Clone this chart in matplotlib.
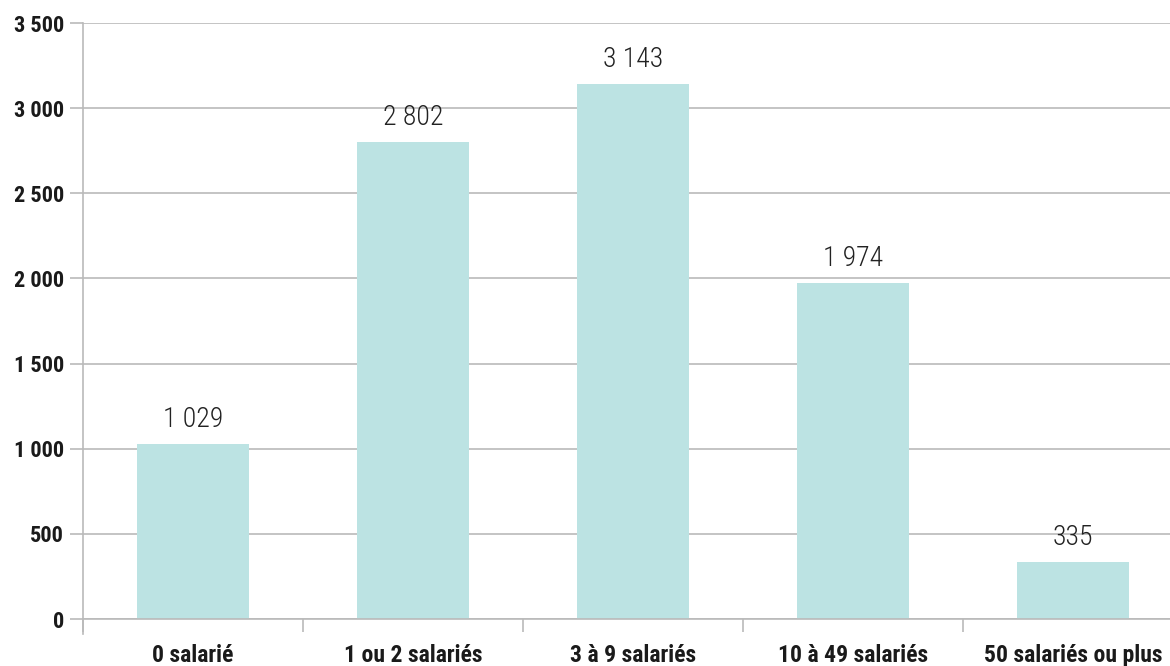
import matplotlib
matplotlib.use("Agg")
import matplotlib.pyplot as plt
from matplotlib.ticker import FuncFormatter, MultipleLocator, FixedLocator

plt.rcParams['font.family'] = ['Roboto Condensed', 'DejaVu Sans']
plt.rcParams['font.stretch'] = 'condensed'

categories = ["0 salarié", "1 ou 2 salariés", "3 à 9 salariés",
              "10 à 49 salariés", "50 salariés ou plus"]
values = [1029, 2802, 3143, 1974, 335]

bar_color = "#bce3e3"
grid_color = "#bababa"


def fmt_fr(v, pos=None):
    return f"{int(v):,}".replace(",", " ")


fig = plt.figure(figsize=(11.7, 6.66), dpi=100)
ax = fig.add_axes([83 / 1170, 47 / 666, 1100 / 1170, 596 / 666])

x = list(range(len(categories)))
ax.bar(x, values, width=0.51, color=bar_color, zorder=2)

for xi, v in zip(x, values):
    ax.annotate(fmt_fr(v), (xi, v), xytext=(0, 8), textcoords="offset points",
                ha="center", va="bottom", fontsize=20, fontweight="light",
                color="#222222")

ax.set_xlim(-0.5, len(categories) - 0.5)
ax.set_ylim(0, 3500)
ax.yaxis.set_major_locator(MultipleLocator(500))
ax.yaxis.set_major_formatter(FuncFormatter(fmt_fr))
ax.grid(axis="y", color=grid_color, linewidth=1.2, zorder=0)

ax.set_xticks(x)
ax.set_xticklabels(categories)
ax.xaxis.set_minor_locator(FixedLocator([i - 0.5 for i in range(len(categories) + 1)]))
ax.tick_params(axis="x", which="major", length=0, pad=18)
ax.tick_params(axis="x", which="minor", length=9.5, width=1.2, color=grid_color)
ax.tick_params(axis="y", length=9.5, width=1.2, color=grid_color, pad=4)

for lbl in ax.get_xticklabels():
    lbl.set_fontweight("bold")
    lbl.set_fontsize(17)
    lbl.set_color("#1a1a1a")
for lbl in ax.get_yticklabels():
    lbl.set_fontweight("bold")
    lbl.set_fontsize(16)
    lbl.set_color("#1a1a1a")

for side in ["top", "right"]:
    ax.spines[side].set_visible(False)
for side in ["left", "bottom"]:
    ax.spines[side].set_color(grid_color)
    ax.spines[side].set_linewidth(1.2)
ax.spines["left"].set_bounds(-90, 3500)

fig.savefig("out.png", dpi=100)
